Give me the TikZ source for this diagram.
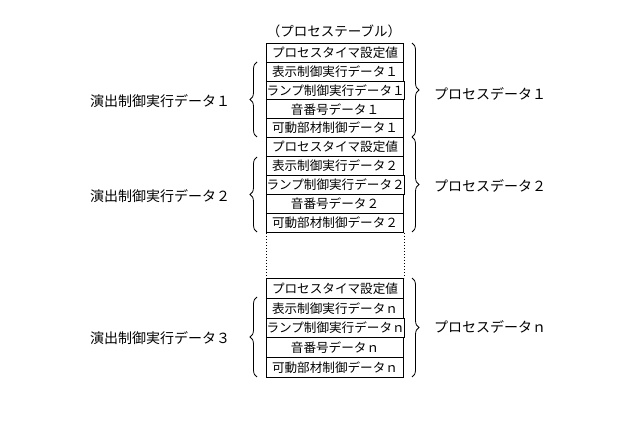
\documentclass[tikz,border=0pt]{standalone}
\usepackage{fontspec}
\setmainfont{Noto Sans CJK JP}
\usetikzlibrary{decorations.pathreplacing}
\begin{document}
\begin{tikzpicture}[x=1pt,y=-1pt,
  cell/.style={draw,line width=1pt,minimum width=137pt,inner sep=0pt,anchor=north west,font=\fontsize{12.6}{13}\selectfont},
  lab/.style={font=\fontsize{14}{15}\selectfont},
  brl/.style={decorate,decoration={brace,amplitude=7pt,mirror},line width=0.8pt},
  brr/.style={decorate,decoration={brace,amplitude=7pt},line width=0.8pt}]
\useasboundingbox (0,0) rectangle (640,422);
\node[font=\fontsize{13.5}{14}\selectfont] (title) at (334,31) {（プロセステーブル）};
% group 1
\foreach \i/\t [count=\k] in {0/プロセスタイマ設定値,1/表示制御実行データ１,2/ランプ制御実行データ１,3/音番号データ１,4/可動部材制御データ１}{
  \node[cell,minimum height=18.8pt] (a\k) at (266,43+18.8*\i) {\t};}
\foreach \i/\t [count=\k] in {0/プロセスタイマ設定値,1/表示制御実行データ２,2/ランプ制御実行データ２,3/音番号データ２,4/可動部材制御データ２}{
  \node[cell,minimum height=19pt] (b\k) at (266,137+19*\i) {\t};}
\foreach \i/\t [count=\k] in {0/プロセスタイマ設定値,1/表示制御実行データｎ,2/ランプ制御実行データｎ,3/音番号データｎ,4/可動部材制御データｎ}{
  \node[cell,minimum height=19.8pt] (c\k) at (266,278+19.8*\i) {\t};}
\draw[line width=1pt,dotted] (b5.south west) -- (c1.north west);
\draw[line width=1pt,dotted] (b5.south east) -- (c1.north east);
% braces
\draw[brl] (257,62) -- (257,137);
\draw[brl] (257,157) -- (257,232);
\draw[brl] (257,297) -- (257,377);
\draw[brr] (412,43) -- (412,137);
\draw[brr] (412,137) -- (412,232);
\draw[brr] (412,278) -- (412,377);
\node[lab] (l1) at (160,101) {演出制御実行データ１};
\node[lab] (l2) at (160,196) {演出制御実行データ２};
\node[lab] (l3) at (160,338) {演出制御実行データ３};
\node[lab] (r1) at (490,94) {プロセスデータ１};
\node[lab] (r2) at (490,186) {プロセスデータ２};
\node[lab] (r3) at (490,327) {プロセスデータｎ};
\end{tikzpicture}
\end{document}
